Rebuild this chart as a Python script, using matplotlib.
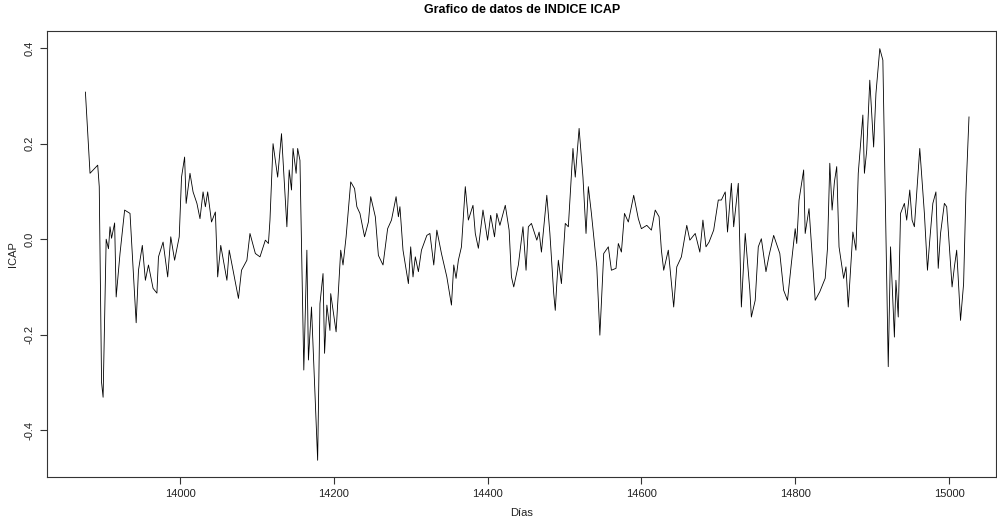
import numpy as np
import matplotlib.pyplot as plt

plt.rcParams['font.family'] = ['Liberation Sans', 'DejaVu Sans']

# Serie del indice ICAP (dia, valor)
dias = [13877, 13883, 13893, 13895, 13898, 13900, 13904, 13907, 13909, 13911,
        13915, 13917, 13922, 13928, 13935, 13943, 13946, 13951, 13955, 13959,
        13965, 13970, 13972, 13978, 13984, 13988, 13993, 13999, 14002, 14006,
        14008, 14013, 14017, 14022, 14026, 14030, 14033, 14036, 14041, 14046,
        14049, 14053, 14061, 14064, 14069, 14076, 14080, 14087, 14091, 14098,
        14104, 14111, 14115, 14117, 14121, 14127, 14132, 14139, 14142, 14145,
        14147, 14151, 14153, 14156, 14161, 14165, 14167, 14171, 14179, 14182,
        14186, 14188, 14191, 14195, 14196, 14203, 14209, 14212, 14216, 14222,
        14227, 14230, 14234, 14240, 14245, 14248, 14254, 14258, 14264, 14270,
        14275, 14281, 14284, 14286, 14290, 14297, 14300, 14303, 14306, 14310,
        14314, 14321, 14325, 14330, 14334, 14340, 14347, 14353, 14356, 14359,
        14362, 14366, 14371, 14375, 14381, 14384, 14388, 14394, 14400, 14404,
        14409, 14412, 14416, 14423, 14428, 14431, 14434, 14440, 14446, 14450,
        14453, 14457, 14464, 14467, 14470, 14477, 14481, 14486, 14488, 14490,
        14492, 14496, 14501, 14505, 14511, 14514, 14519, 14524, 14528, 14531,
        14535, 14542, 14546, 14551, 14557, 14561, 14567, 14570, 14574, 14578,
        14583, 14590, 14596, 14600, 14607, 14613, 14618, 14623, 14626, 14629,
        14635, 14642, 14646, 14652, 14659, 14663, 14670, 14676, 14680, 14684,
        14688, 14694, 14700, 14704, 14709, 14712, 14717, 14720, 14726, 14730,
        14735, 14741, 14743, 14748, 14752, 14756, 14762, 14766, 14772, 14780,
        14785, 14790, 14795, 14800, 14802, 14805, 14811, 14813, 14818, 14821,
        14826, 14832, 14839, 14842, 14845, 14848, 14851, 14854, 14857, 14863,
        14866, 14869, 14875, 14879, 14882, 14888, 14890, 14893, 14897, 14902,
        14905, 14910, 14914, 14917, 14921, 14924, 14927, 14929, 14931, 14934,
        14937, 14942, 14945, 14949, 14952, 14955, 14962, 14968, 14972, 14975,
        14979, 14983, 14986, 14989, 14994, 14997, 15004, 15007, 15010, 15015,
        15019, 15022, 15026]

icap = [0.308, 0.138, 0.155, 0.110, -0.300, -0.331, 0.000, -0.020, 0.026, 0.002,
        0.034, -0.121, -0.030, 0.061, 0.054, -0.175, -0.065, -0.013, -0.086, -0.054,
        -0.103, -0.113, -0.037, -0.006, -0.079, 0.005, -0.044, 0.005, 0.130, 0.172,
        0.075, 0.138, 0.099, 0.075, 0.043, 0.099, 0.068, 0.099, 0.036, 0.057,
        -0.079, -0.013, -0.086, -0.023, -0.065, -0.124, -0.065, -0.044, 0.012, -0.030,
        -0.037, -0.002, -0.009, 0.040, 0.200, 0.130, 0.221, 0.026, 0.145, 0.103,
        0.190, 0.138, 0.190, 0.165, -0.274, -0.023, -0.253, -0.142, -0.463, -0.135,
        -0.072, -0.239, -0.138, -0.191, -0.114, -0.194, -0.023, -0.054, 0.005, 0.120,
        0.106, 0.068, 0.054, 0.005, 0.036, 0.089, 0.047, -0.034, -0.054, 0.022,
        0.040, 0.089, 0.047, 0.068, -0.023, -0.093, -0.016, -0.079, -0.037, -0.068,
        -0.023, 0.008, 0.012, -0.054, 0.019, -0.030, -0.079, -0.138, -0.054, -0.082,
        -0.044, -0.016, 0.110, 0.040, 0.071, 0.012, -0.019, 0.061, -0.002, 0.050,
        0.005, 0.054, 0.029, 0.071, 0.019, -0.079, -0.100, -0.054, 0.026, -0.065,
        0.026, 0.033, -0.002, 0.015, -0.027, 0.092, 0.012, -0.114, -0.149, -0.093,
        -0.044, -0.093, 0.033, 0.026, 0.190, 0.130, 0.232, 0.130, 0.012, 0.110,
        0.054, -0.058, -0.201, -0.030, -0.016, -0.065, -0.061, -0.009, -0.027, 0.054,
        0.036, 0.092, 0.043, 0.022, 0.029, 0.019, 0.061, 0.047, -0.023, -0.065,
        -0.023, -0.142, -0.058, -0.037, 0.029, -0.002, 0.012, -0.027, 0.040, -0.016,
        -0.006, 0.019, 0.082, 0.082, 0.099, 0.015, 0.117, 0.026, 0.117, -0.142,
        0.012, -0.107, -0.163, -0.128, -0.016, 0.001, -0.068, -0.034, 0.008, -0.030,
        -0.107, -0.128, -0.051, 0.022, -0.009, 0.082, 0.145, 0.012, 0.064, -0.009,
        -0.128, -0.110, -0.082, -0.019, 0.159, 0.061, 0.120, 0.152, -0.016, -0.082,
        -0.058, -0.142, 0.015, -0.023, 0.138, 0.260, 0.138, 0.186, 0.333, 0.193,
        0.305, 0.399, 0.375, 0.103, -0.267, -0.016, -0.128, -0.205, -0.086, -0.163,
        0.054, 0.075, 0.040, 0.103, 0.040, 0.026, 0.190, 0.054, -0.065, -0.002,
        0.075, 0.099, -0.061, 0.012, 0.075, 0.068, -0.100, -0.058, -0.023, -0.170,
        -0.093, 0.096, 0.256]

xticks = [14000, 14200, 14400, 14600, 14800, 15000]
yticks = [-0.4, -0.2, 0.0, 0.2, 0.4]

fig = plt.figure(figsize=(9.97, 5.2), dpi=100)
ax = fig.add_axes([0.0471, 0.0827, 0.9518, 0.8577])

ax.plot(dias, icap, color='black', linewidth=0.6)

ax.set_xlim(13827, 15061)
ax.set_ylim(-0.498, 0.436)
ax.set_xticks(xticks)
ax.set_xticklabels([str(t) for t in xticks])
ax.set_yticks(yticks)
ax.set_yticklabels(['-0.4', '-0.2', '0.0', '0.2', '0.4'], rotation=90, va='center')

for s in ax.spines.values():
    s.set_color('#333333')
    s.set_linewidth(0.8)
ax.tick_params(direction='out', length=5, width=0.8, color='#333333',
               labelsize=8, labelcolor='#222222', pad=4)

# Titulo y etiquetas en posicion fija, como en el grafico de R
fig.text(0.5236, 0.981, 'Grafico de datos de INDICE ICAP', fontsize=9,
         fontweight='bold', ha='center', va='center')
fig.text(0.5236, 0.013, 'Días', fontsize=8, color='#222222', ha='center', va='center')
fig.text(0.013, 0.512, 'ICAP', fontsize=8, color='#222222', ha='center', va='center',
         rotation=90)

fig.savefig('out.png', dpi=100)
